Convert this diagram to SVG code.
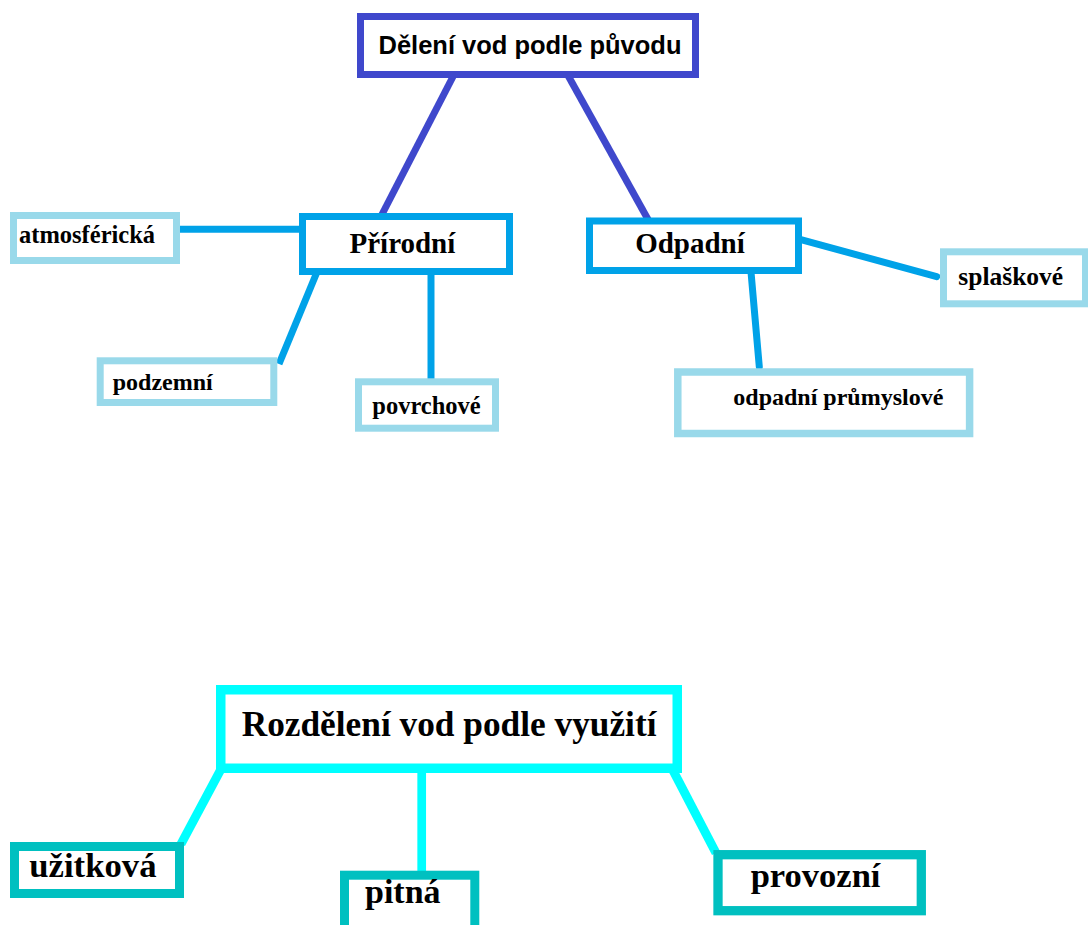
<svg xmlns="http://www.w3.org/2000/svg" width="1088" height="925" viewBox="0 0 1088 925">
<style>
.bg{fill:#ffffff}
.box{fill:#ffffff}
.root{stroke:#3F48CC;stroke-width:7}
.mid{stroke:#00A2E8;stroke-width:7}
.leaf{stroke:#99D9EA;stroke-width:7}
.root2{stroke:#00FFFF;stroke-width:9.5}
.leaf2{stroke:#00C0C0;stroke-width:9}
.c1{stroke:#3F48CC;stroke-width:7;fill:none}
.c2{stroke:#00A2E8;stroke-width:7;fill:none}
.c3{stroke:#00FFFF;stroke-width:9;fill:none}
.sans{font-family:"Liberation Sans",Arial,sans-serif;font-weight:bold;fill:#000000}
.serif{font-family:"Liberation Serif","Times New Roman",serif;font-weight:bold;fill:#000000}
</style>
<rect class="bg" x="0" y="0" width="1088" height="925"/>
<g id="connectors">
  <line class="c1" x1="453.3" y1="76" x2="381.7" y2="215"/>
  <line class="c1" x1="568.3" y1="76" x2="648.3" y2="220"/>
  <line class="c2" x1="178" y1="229.3" x2="301" y2="229.3"/>
  <line class="c2" x1="317" y1="272" x2="279" y2="364"/>
  <line class="c2" x1="431" y1="272" x2="431" y2="380"/>
  <line class="c2" x1="800" y1="239.3" x2="936.7" y2="276.7" stroke-linecap="round"/>
  <line class="c2" x1="751" y1="272" x2="759.3" y2="366.7" stroke-linecap="round"/>
  <line class="c3" x1="220" y1="771" x2="181" y2="844"/>
  <line class="c3" x1="421.7" y1="771" x2="421.7" y2="873" style="stroke-width:8.7"/>
  <line class="c3" x1="673.3" y1="771" x2="716" y2="853"/>
</g>
<g id="node-root">
  <rect class="box root" x="360.5" y="16.5" width="335" height="58"/>
  <text class="sans" x="530" y="53.5" font-size="26" text-anchor="middle" textLength="303" lengthAdjust="spacingAndGlyphs">Dělení vod podle původu</text>
</g>
<g id="node-prirodni">
  <rect class="box mid" x="302.5" y="216.5" width="207" height="55"/>
  <text class="serif" x="402.4" y="252.5" font-size="29" text-anchor="middle">Přírodní</text>
</g>
<g id="node-odpadni">
  <rect class="box mid" x="589.5" y="221" width="209" height="49.5"/>
  <text class="serif" x="690" y="252.5" font-size="29" text-anchor="middle">Odpadní</text>
</g>
<g id="node-atmosfericka">
  <rect class="box leaf" x="13.5" y="215.5" width="163" height="45"/>
  <text class="serif" x="19" y="243" font-size="24.5">atmosférická</text>
</g>
<g id="node-podzemni">
  <rect class="box leaf" x="100.2" y="360.8" width="173.6" height="41.7"/>
  <text class="serif" x="112.7" y="389.5" font-size="24">podzemní</text>
</g>
<g id="node-povrchove">
  <rect class="box leaf" x="358.5" y="381.8" width="137" height="46.4"/>
  <text class="serif" x="372.3" y="414" font-size="24.5">povrchové</text>
</g>
<g id="node-splaskove">
  <rect class="box leaf" x="943.5" y="251.8" width="142" height="52"/>
  <text class="serif" x="958.3" y="285" font-size="25.5">splaškové</text>
</g>
<g id="node-prumyslove">
  <rect class="box leaf" x="677.8" y="372" width="291.8" height="61.5" style="stroke-width:7.5"/>
  <text class="serif" x="733.3" y="405" font-size="24">odpadní průmyslové</text>
</g>
<g id="node-vyuziti">
  <rect class="box root2" x="220.75" y="689.75" width="456.5" height="78.5"/>
  <text class="serif" x="241.7" y="735.7" font-size="35.3">Rozdělení vod podle využití</text>
</g>
<g id="node-uzitkova">
  <rect class="box leaf2" x="14.5" y="846.5" width="165" height="47"/>
  <text class="serif" x="29.3" y="876.7" font-size="34.7">užitková</text>
</g>
<g id="node-pitna">
  <rect class="box leaf2" x="344.5" y="875.2" width="130.3" height="70"/>
  <text class="serif" x="365" y="903.3" font-size="34">pitná</text>
</g>
<g id="node-provozni">
  <rect class="box leaf2" x="718" y="854.7" width="203.3" height="56" style="stroke-width:9.3"/>
  <text class="serif" x="750.7" y="886.7" font-size="34.5">provozní</text>
</g>
</svg>
